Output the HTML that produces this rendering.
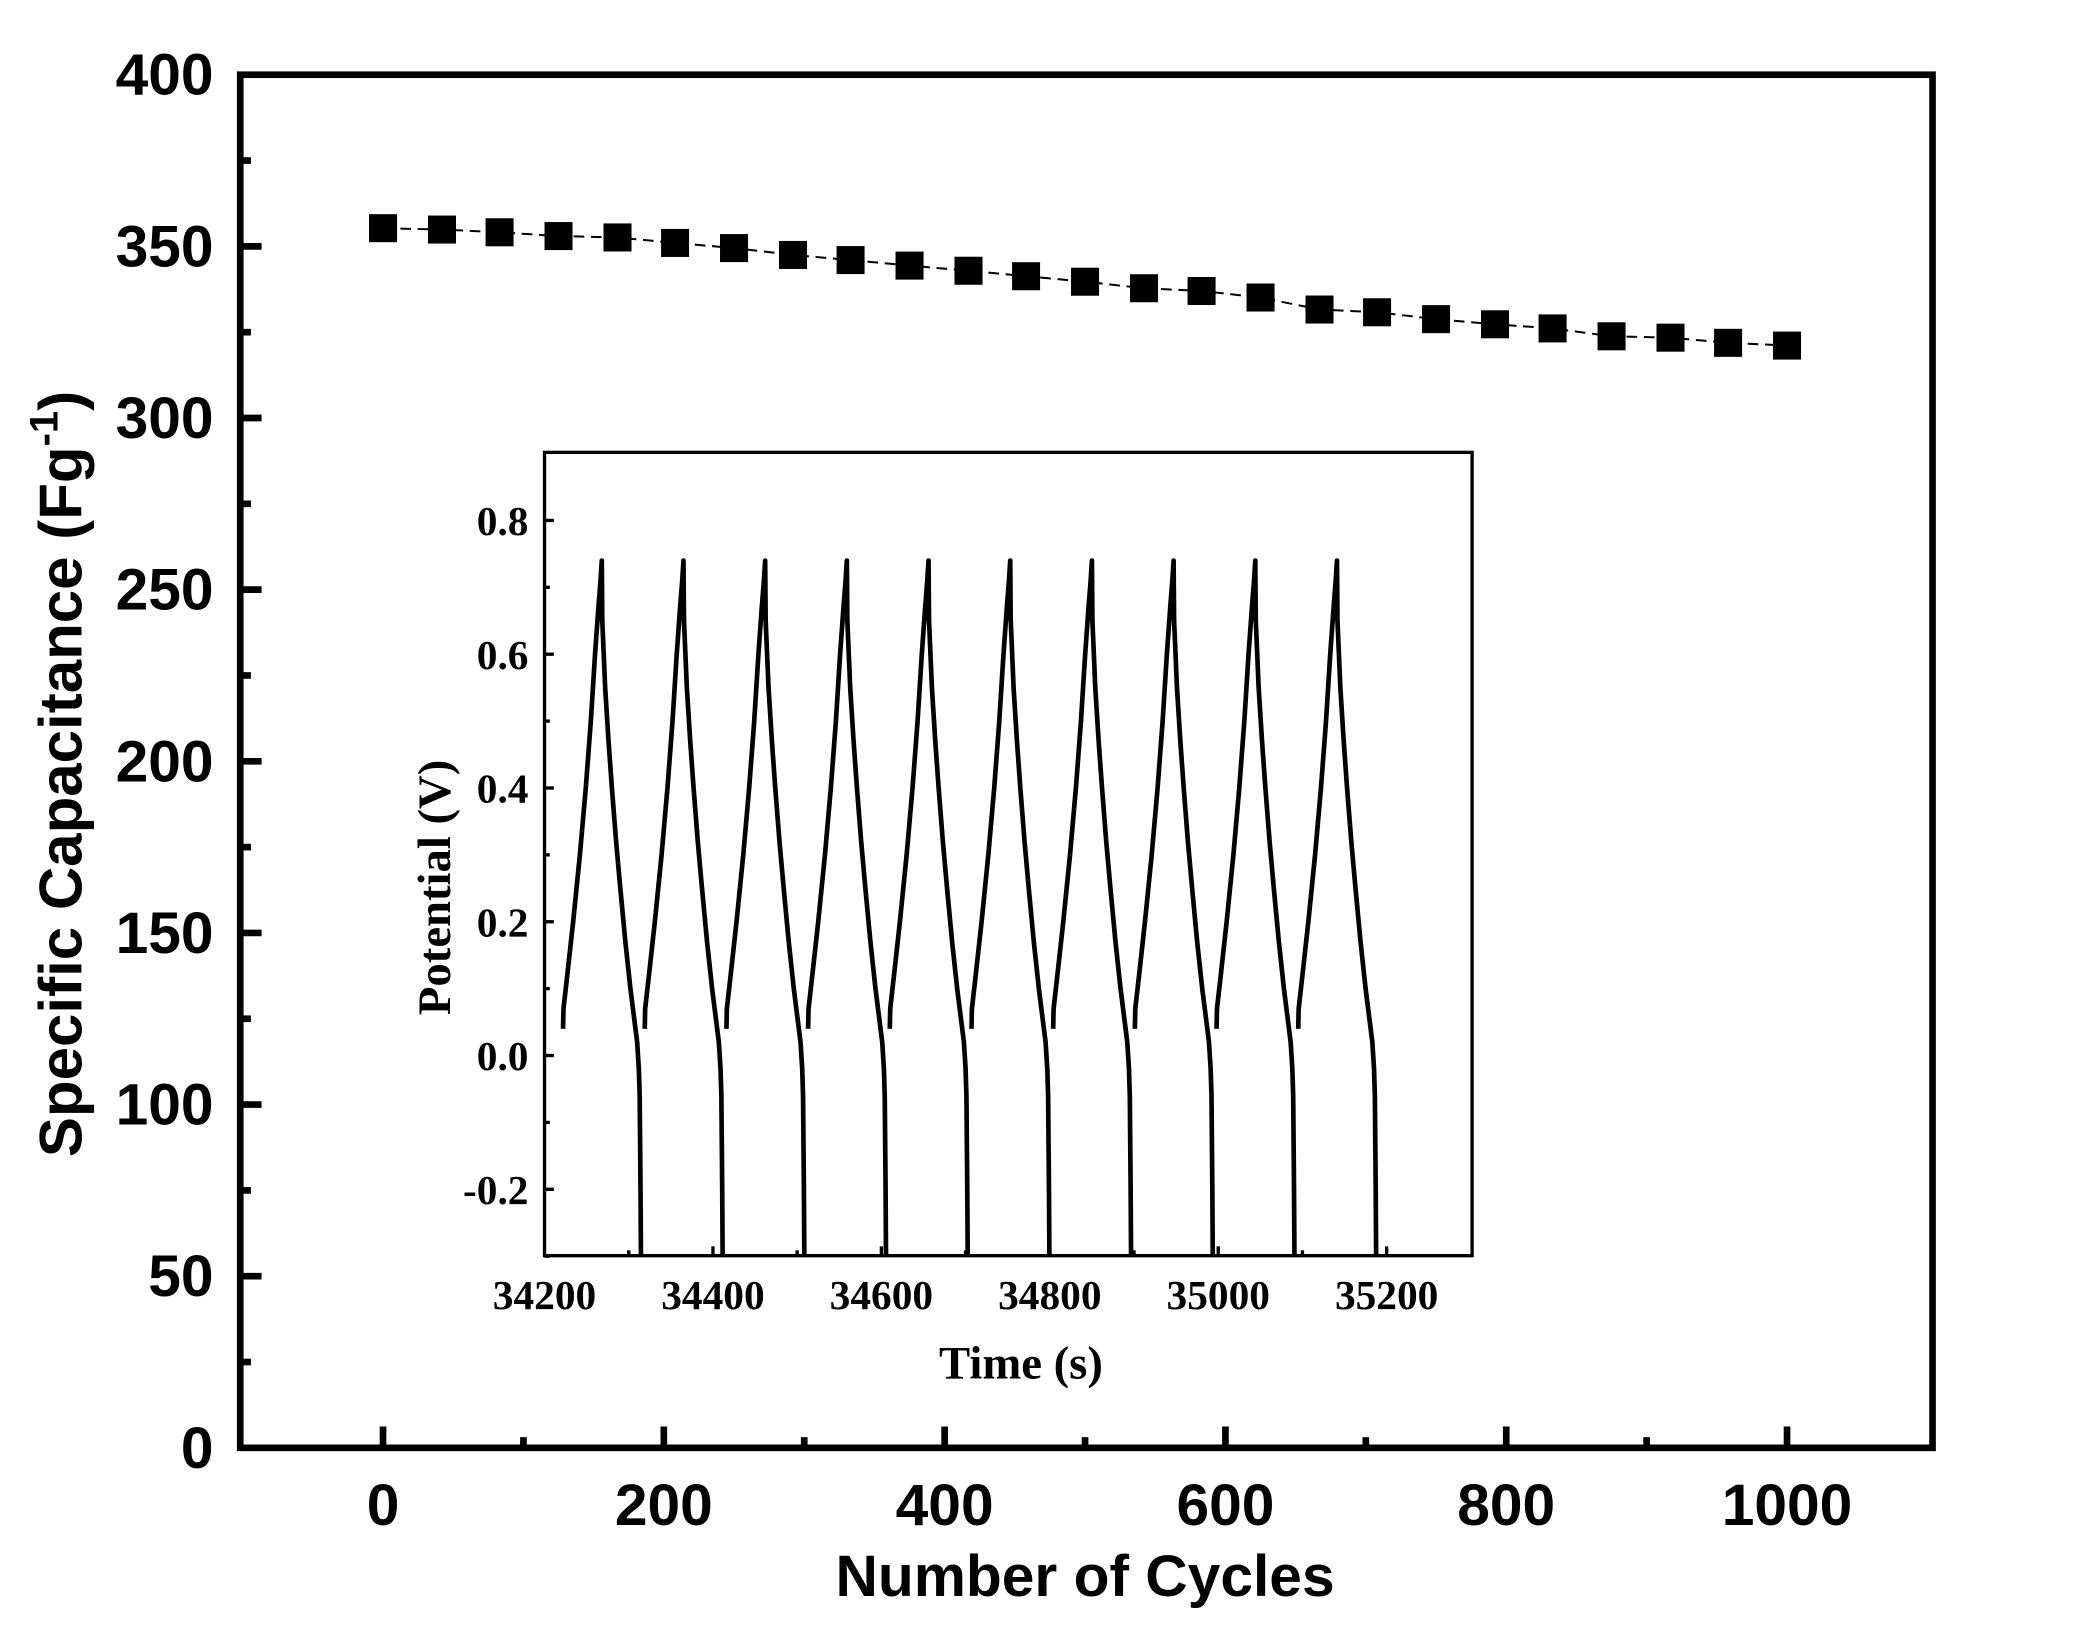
<!DOCTYPE html>
<html><head><meta charset="utf-8"><style>
html,body{margin:0;padding:0;background:#fff;}
svg{display:block;}
.ax{font-family:"Liberation Sans",Arial,sans-serif;font-weight:bold;fill:#000;}
.tm{font-family:"Liberation Serif","Times New Roman",serif;font-weight:bold;fill:#000;}
</style></head><body>
<svg id="chart" width="2092" height="1644" viewBox="0 0 1567.5 1232" preserveAspectRatio="none" xmlns="http://www.w3.org/2000/svg">
<g id="main"></g>
<g id="inset"></g>
</svg>
<script>
// main chart data
const cycles = [0,42,83,125,167,208,250,292,333,375,417,458,500,542,583,625,667,708,750,792,833,875,917,958,1000];
const capacitance = [355.3,354.9,354.1,353.0,352.6,351.0,349.5,347.5,346.0,344.4,342.9,341.3,339.7,337.8,337.0,335.1,331.6,330.8,328.8,327.3,326.1,323.8,323.4,321.9,321.1];
const xTickLabels = [0,200,400,600,800,1000];
const yTickLabels = [0,50,100,150,200,250,300,350,400];
// inset data
const cycleStarts = [34222,34319,34416,34513,34610,34707,34804,34901,34998,35095];
const chargeTimes = [0,0.5,5,12,20,27,33,38,42,44.5,46];
const chargeVolts = [0.04,0.07,0.12,0.2,0.3,0.4,0.5,0.6,0.67,0.71,0.74];
const dischargeTimes = [46,46.6,50,54,58,63,68,74,80,85,88,90,91,92,92.5];
const dischargeVolts = [0.74,0.65,0.55,0.47,0.4,0.32,0.25,0.17,0.1,0.05,0.02,-0.02,-0.06,-0.2,-0.32];
const insetXTicks = [34200,34400,34600,34800,35000,35200];
const insetYTicks = [-0.2,0.0,0.2,0.4,0.6,0.8];

const NS="http://www.w3.org/2000/svg";
function mk(tag,attrs,parent,text){const e=document.createElementNS(NS,tag);for(const k in attrs)e.setAttribute(k,attrs[k]);if(text!==undefined)e.textContent=text;parent.appendChild(e);return e;}

// main axes
const L=180,R=1448,T=56,B=1085;
const xs=v=>287+v*1.052;
const ys=v=>B-(v/400)*(B-T);
const main=document.getElementById('main');
for(let v=-100;v<=1100;v+=100){
  if(v<=-100||v>=1100)continue;
  const major=v%200===0;
  const t=mk('line',{x1:xs(v),x2:xs(v),y1:B,y2:B-(major?16:8),stroke:'#000','stroke-width':5},main);
  
  
}
xTickLabels.forEach(v=>{
  const t=mk('text',{x:xs(v),y:1143,'text-anchor':'middle','font-size':44,class:'ax'},main,String(v));
  
  
});
for(let v=25;v<400;v+=25){
  const major=v%50===0;
  const t=mk('line',{x1:L,x2:L+(major?16:8),y1:ys(v),y2:ys(v),stroke:'#000','stroke-width':5},main);
  
  
}
yTickLabels.forEach(v=>{
  const t=mk('text',{x:160,y:ys(v)+15,'text-anchor':'end','font-size':44,class:'ax'},main,String(v));
  
  
});
const fr=mk('rect',{x:L,y:T,width:R-L,height:B-T,fill:'none',stroke:'#000','stroke-width':5},main);


const xt=mk('text',{x:813,y:1196,'text-anchor':'middle','font-size':44,class:'ax'},main,'Number of Cycles');


const yt=mk('text',{x:0,y:0,'text-anchor':'middle','font-size':45,class:'ax',transform:'translate(61,580) rotate(-90)'},main);


yt.innerHTML='Specific Capacitance (Fg<tspan dy="-18" font-size="30">-1</tspan><tspan dy="18">)</tspan>';
const pts=cycles.map((c,i)=>xs(c)+','+ys(capacitance[i])).join(' ');
const ln=mk('polyline',{points:pts,fill:'none',stroke:'#000','stroke-width':1.5,'stroke-dasharray':'8,5'},main);


cycles.forEach((c,i)=>{
  const m=mk('rect',{x:xs(c)-10.5,y:ys(capacitance[i])-10.5,width:21,height:21,fill:'#000'},main);
  
  
});

// inset
const iL=408,iR=1103,iT=339,iB=941;
const ix=t=>iL+(t-34200)*0.631;
const iy=v=>791-v*501.25;
const inset=document.getElementById('inset');
const ibg=mk('rect',{x:iL,y:iT,width:iR-iL,height:iB-iT,fill:'#fff',stroke:'#000','stroke-width':2.5},inset);


for(let v=-0.3;v<=0.85;v+=0.1){
  const vv=Math.round(v*10)/10;
  const major=Math.round(vv*10)%2===0;
  const t=mk('line',{x1:iL,x2:iL+(major?7:4),y1:iy(vv),y2:iy(vv),stroke:'#000','stroke-width':2.5},inset);
  
  
}
for(let t0=34300;t0<35300;t0+=100){
  const major=t0%200===0;
  const t=mk('line',{x1:ix(t0),x2:ix(t0),y1:iB,y2:iB-(major?7:4),stroke:'#000','stroke-width':2.5},inset);
  
  
}
insetYTicks.forEach(v=>{
  const t=mk('text',{x:396,y:iy(v)+11,'text-anchor':'end','font-size':31,class:'tm'},inset,v.toFixed(1));
  
  
});
insetXTicks.forEach(v=>{
  const t=mk('text',{x:ix(v),y:981,'text-anchor':'middle','font-size':31,class:'tm'},inset,String(v));
  
  
});
const ixt=mk('text',{x:765,y:1033,'text-anchor':'middle','font-size':35,class:'tm'},inset,'Time (s)');


const iyt=mk('text',{x:0,y:0,'text-anchor':'middle','font-size':35,class:'tm',transform:'translate(337,665) rotate(-90)'},inset,'Potential (V)');


cycleStarts.forEach(s=>{
  const p=[];
  chargeTimes.forEach((t,i)=>p.push(ix(s+t)+','+iy(chargeVolts[i])));
  dischargeTimes.forEach((t,i)=>p.push(ix(s+t)+','+Math.min(iB,iy(dischargeVolts[i]))));
  const c=mk('polyline',{points:p.join(' '),fill:'none',stroke:'#000','stroke-width':3.5,'stroke-linejoin':'round'},inset);
  
  
});
</script>
</body></html>
